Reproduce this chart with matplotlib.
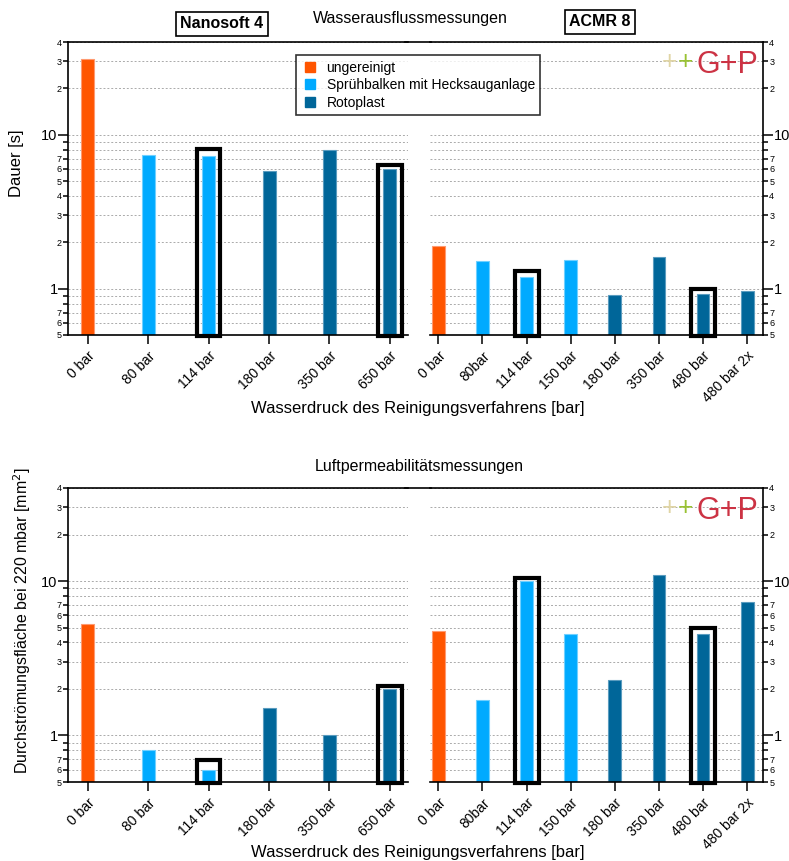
import matplotlib
matplotlib.use("Agg")
import matplotlib.pyplot as plt
from matplotlib.patches import Rectangle
from matplotlib.lines import Line2D

plt.rcParams['font.family'] = ['Liberation Sans', 'DejaVu Sans']

# pressure categories per machine
nano_labels = ["0 bar", "80 bar", "114 bar", "180 bar", "350 bar", "650 bar"]
acmr_labels = ["0 bar", "80bar", "114 bar", "150 bar", "180 bar", "350 bar", "480 bar", "480 bar 2x"]

# cleaning method per bar: 0 ungereinigt, 1 Sprühbalken, 2 Rotoplast
nano_method = [0, 1, 1, 2, 2, 2]
acmr_method = [0, 1, 1, 1, 2, 2, 2, 2]

# water outflow duration [s]
nano_dauer = [31.0, 7.4, 7.25, 5.85, 7.9, 6.0]
acmr_dauer = [1.89, 1.51, 1.19, 1.54, 0.91, 1.61, 0.93, 0.96]

# air permeability area [mm^2]
nano_flaeche = [5.25, 0.81, 0.60, 1.51, 1.0, 2.01]
acmr_flaeche = [4.73, 1.71, 10.0, 4.52, 2.27, 11.0, 4.52, 7.28]

# highlighted bars (index, box top)
nano_dauer_hl = [(2, 8.1), (5, 6.4)]
acmr_dauer_hl = [(2, 1.3), (6, 1.0)]
nano_flaeche_hl = [(2, 0.69), (5, 2.08)]
acmr_flaeche_hl = [(2, 10.4), (6, 4.95)]

method_names = ["ungereinigt", "Sprühbalken mit Hecksauganlage", "Rotoplast"]
method_colors = ["#FF5500", "#00AAFF", "#006699"]
edge_colors = ["#FF9a70", "#70d0ff", "#5a9cbf"]

major = [1, 10]
minor = [0.5, 0.6, 0.7, 0.8, 0.9, 2, 3, 4, 5, 6, 7, 8, 9, 20, 30, 40]
minor_lab = ["5", "6", "7", "", "", "2", "3", "4", "5", "6", "7", "", "", "2", "3", "4"]

W, H = 789, 861
fig = plt.figure(figsize=(W / 100, H / 100), dpi=100)


def fx(px):
    return px / W


def fy(px):
    return 1 - px / H


def panel(rect, labels, methods, values, highlights, side, width, boxw, xlim):
    ax = fig.add_axes(rect)
    x = list(range(len(labels)))
    ax.bar(x, values, width=width,
           color=[method_colors[m] for m in methods],
           edgecolor=[edge_colors[m] for m in methods], linewidth=0.8, zorder=2)
    ax.set_yscale("log")
    ax.set_ylim(0.5, 40)
    ax.set_xlim(*xlim)
    ax.set_yticks(major, ["1", "10"])
    ax.set_yticks(minor, minor_lab, minor=True)
    ax.tick_params(axis="y", which="major", length=7, width=1.1, labelsize=10.5, pad=0.5)
    ax.tick_params(axis="y", which="minor", length=3.5, width=1.1, labelsize=6.5, pad=1)
    ax.grid(which="both", axis="y", color="#aaaaaa", linestyle=(0, (2, 2)), linewidth=0.7)
    ax.set_axisbelow(True)
    ax.set_xticks(x, labels, rotation=45, ha="right", rotation_mode="anchor", fontsize=10)
    ax.tick_params(axis="x", length=6.5, width=1.1, pad=3.5)
    for s in ax.spines.values():
        s.set_linewidth(1.2)
    if side == "left":
        ax.spines["right"].set_visible(False)
    else:
        ax.spines["left"].set_visible(False)
        ax.yaxis.tick_right()
    for i, top in highlights:
        ax.add_patch(Rectangle((i - boxw / 2, 0.495), boxw, top - 0.495, fill=False,
                               edgecolor="black", linewidth=3, zorder=5, clip_on=False))
    return ax


def logo(ytop):
    fig.text(fx(669), fy(ytop + 17), "+", color="#e0d5a5", fontsize=19, ha="center",
             va="center")
    fig.text(fx(685), fy(ytop + 17), "+", color="#99c233", fontsize=19, ha="center",
             va="center")
    fig.text(fx(697), fy(ytop + 28), "G+P", color="#cc3344", fontsize=22, ha="left",
             va="baseline")


top_y, bot_y = 42, 335
top2_y, bot2_y = 488, 782

for (t, b) in [(top_y, bot_y), (top2_y, bot2_y)]:
    fig.add_artist(Line2D([fx(405), fx(431)], [fy(t), fy(t)], color="black", linewidth=1.2))

panel([fx(68), fy(bot_y), fx(408 - 68), (bot_y - top_y) / H], nano_labels, nano_method,
      nano_dauer, nano_dauer_hl, "left", 0.215, 0.39, (-0.33, 5.3))
panel([fx(430), fy(bot_y), fx(763 - 430), (bot_y - top_y) / H], acmr_labels, acmr_method,
      acmr_dauer, acmr_dauer_hl, "right", 0.29, 0.54, (-0.19, 7.36))
panel([fx(68), fy(bot2_y), fx(408 - 68), (bot2_y - top2_y) / H], nano_labels, nano_method,
      nano_flaeche, nano_flaeche_hl, "left", 0.215, 0.39, (-0.33, 5.3))
panel([fx(430), fy(bot2_y), fx(763 - 430), (bot2_y - top2_y) / H], acmr_labels, acmr_method,
      acmr_flaeche, acmr_flaeche_hl, "right", 0.29, 0.54, (-0.19, 7.36))

logo(top_y + 3)
logo(top2_y + 3)

# titles and labels
fig.text(fx(410), fy(18), "Wasserausflussmessungen", fontsize=11.5, ha="center", va="center")
fig.text(fx(419), fy(467), "Luftpermeabilitätsmessungen", fontsize=11.5, ha="center", va="center")
fig.text(fx(418), fy(408), "Wasserdruck des Reinigungsverfahrens [bar]", fontsize=12,
         ha="center", va="center")
fig.text(fx(418), fy(852), "Wasserdruck des Reinigungsverfahrens [bar]", fontsize=12,
         ha="center", va="center")
fig.text(fx(17), fy(163), "Dauer [s]", fontsize=12, rotation=90, ha="center", va="center")
fig.text(fx(22), fy(621), "Durchströmungsfläche bei 220 mbar [mm$^2$]", fontsize=11.5,
         rotation=90, ha="center", va="center")

box = dict(boxstyle="square,pad=0.3", facecolor="white", edgecolor="black", linewidth=1.2)
fig.text(fx(222), fy(24), "Nanosoft 4", fontsize=11.5, fontweight="bold", ha="center",
         va="center", bbox=box)
fig.text(fx(600), fy(22), "ACMR 8", fontsize=11.5, fontweight="bold", ha="center",
         va="center", bbox=box)

handles = [Line2D([], [], marker="s", linestyle="none", markersize=7,
                  markerfacecolor=c, markeredgecolor=c) for c in method_colors]
leg = fig.legend(handles, method_names, loc="upper left", bbox_to_anchor=(fx(296), fy(55)),
                 borderaxespad=0, fontsize=10, frameon=True, fancybox=False,
                 handlelength=1.2, handletextpad=0.6, labelspacing=0.25, borderpad=0.4)
leg.get_frame().set_edgecolor("black")
leg.get_frame().set_linewidth(1.2)

fig.savefig("out.png", dpi=100)
